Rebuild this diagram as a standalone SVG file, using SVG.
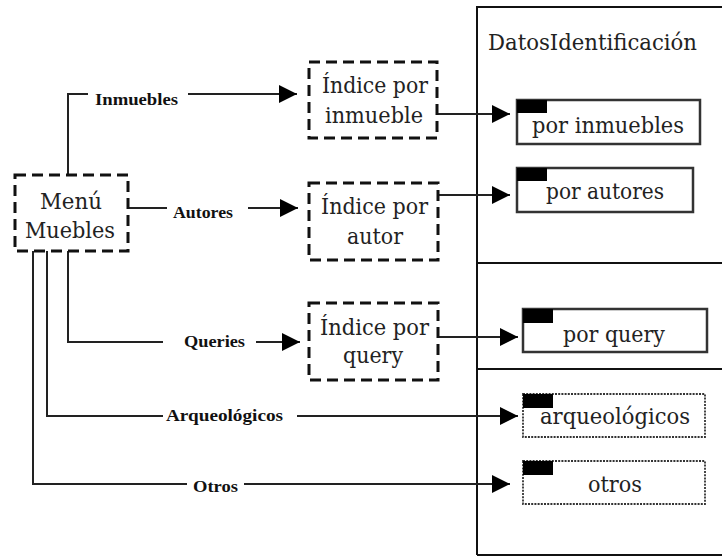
<svg xmlns="http://www.w3.org/2000/svg" width="722" height="557" viewBox="0 0 722 557">
<style>
.bg{fill:#fff}
.dash{fill:none;stroke:#111;stroke-width:3;stroke-dasharray:11 6}
.solid{fill:#fff;stroke:#333;stroke-width:2.5}
.dot{fill:#fff;stroke:#333;stroke-width:1.8;stroke-dasharray:2 1.2}
.tab{fill:#000}
.frame{fill:none;stroke:#111;stroke-width:2}
.conn{fill:none;stroke:#222;stroke-width:2}
.t{font-family:'DejaVu Serif',serif;font-size:23px;fill:#222}
.lab{font-family:'Liberation Serif','DejaVu Serif',serif;font-size:17px;font-weight:bold;fill:#111}
</style>
<defs>
<marker id="ah" markerUnits="userSpaceOnUse" markerWidth="19" markerHeight="18" refX="18" refY="9" orient="auto">
<path d="M0,0 L18,9 L0,18 z" fill="#000"/>
</marker>
</defs>
<rect class="bg" x="0" y="0" width="722" height="557"/>

<g id="frame">
<path class="frame" d="M477,6 V555 M477,7 H722 M477,555 H722 M477,263 H722 M477,369 H722"/>
<text class="t" x="488" y="50" textLength="209" lengthAdjust="spacingAndGlyphs">DatosIdentificación</text>
</g>

<g id="connectors">
<path class="conn" d="M68,175 V94 H88"/>
<path class="conn" d="M188,94 H297" marker-end="url(#ah)"/>
<path class="conn" d="M128,208 H167"/>
<path class="conn" d="M248,208 H298" marker-end="url(#ah)"/>
<path class="conn" d="M68,251 V342 H163"/>
<path class="conn" d="M256,342 H300" marker-end="url(#ah)"/>
<path class="conn" d="M47,251 V416 H163"/>
<path class="conn" d="M297,416 H518" marker-end="url(#ah)"/>
<path class="conn" d="M33,251 V484 H187"/>
<path class="conn" d="M244,484 H510" marker-end="url(#ah)"/>
<path class="conn" d="M437,114 H510" marker-end="url(#ah)"/>
<path class="conn" d="M438,195 H510" marker-end="url(#ah)"/>
<path class="conn" d="M438,337 H518" marker-end="url(#ah)"/>
<text class="lab" x="95" y="105" textLength="83" lengthAdjust="spacingAndGlyphs">Inmuebles</text>
<text class="lab" x="173" y="218" textLength="60" lengthAdjust="spacingAndGlyphs">Autores</text>
<text class="lab" x="184" y="347" textLength="61" lengthAdjust="spacingAndGlyphs">Queries</text>
<text class="lab" x="166" y="421" textLength="117" lengthAdjust="spacingAndGlyphs">Arqueológicos</text>
<text class="lab" x="193" y="492" textLength="45" lengthAdjust="spacingAndGlyphs">Otros</text>
</g>

<g id="menu">
<rect class="dash" x="15" y="175" width="113" height="76"/>
<text class="t" x="40" y="209" textLength="62" lengthAdjust="spacingAndGlyphs">Menú</text>
<text class="t" x="25" y="238" textLength="90" lengthAdjust="spacingAndGlyphs">Muebles</text>
</g>

<g id="indice-inmueble">
<rect class="dash" x="309" y="62" width="128" height="76"/>
<text class="t" x="322" y="93" textLength="106" lengthAdjust="spacingAndGlyphs">Índice por</text>
<text class="t" x="325" y="123" textLength="98" lengthAdjust="spacingAndGlyphs">inmueble</text>
</g>

<g id="indice-autor">
<rect class="dash" x="309" y="183" width="129" height="77"/>
<text class="t" x="321" y="214" textLength="107" lengthAdjust="spacingAndGlyphs">Índice por</text>
<text class="t" x="347" y="244" textLength="56" lengthAdjust="spacingAndGlyphs">autor</text>
</g>

<g id="indice-query">
<rect class="dash" x="309" y="303" width="129" height="77"/>
<text class="t" x="320" y="335" textLength="109" lengthAdjust="spacingAndGlyphs">Índice por</text>
<text class="t" x="343" y="363" textLength="60" lengthAdjust="spacingAndGlyphs">query</text>
</g>

<g id="por-inmuebles">
<rect class="solid" x="517" y="100" width="183" height="44"/>
<rect class="tab" x="517" y="100" width="30" height="13"/>
<text class="t" x="532" y="133" textLength="152" lengthAdjust="spacingAndGlyphs">por inmuebles</text>
</g>

<g id="por-autores">
<rect class="solid" x="517" y="168" width="176" height="44"/>
<rect class="tab" x="517" y="168" width="30" height="13"/>
<text class="t" x="546" y="199" textLength="118" lengthAdjust="spacingAndGlyphs">por autores</text>
</g>

<g id="por-query">
<rect class="solid" x="523" y="309" width="184" height="43"/>
<rect class="tab" x="523" y="309" width="30" height="14"/>
<text class="t" x="563" y="342" textLength="102" lengthAdjust="spacingAndGlyphs">por query</text>
</g>

<g id="arqueologicos">
<rect class="dot" x="523" y="394" width="182" height="43"/>
<rect class="tab" x="523" y="394" width="30" height="14"/>
<text class="t" x="540" y="424" textLength="150" lengthAdjust="spacingAndGlyphs">arqueológicos</text>
</g>

<g id="otros">
<rect class="dot" x="523" y="461" width="182" height="43"/>
<rect class="tab" x="523" y="461" width="30" height="14"/>
<text class="t" x="588" y="492" textLength="54" lengthAdjust="spacingAndGlyphs">otros</text>
</g>
</svg>
